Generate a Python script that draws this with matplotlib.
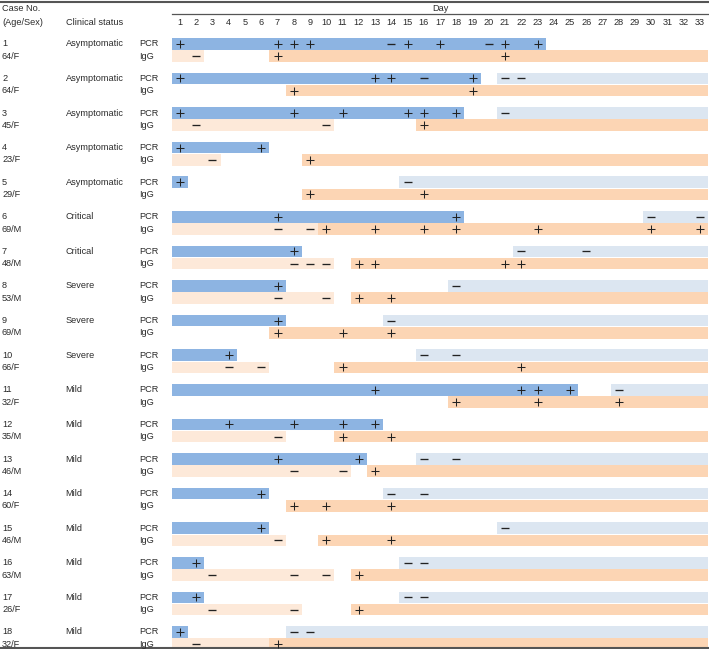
import matplotlib.pyplot as plt
from matplotlib.transforms import blended_transform_factory

plt.rcParams['font.family'] = ['Liberation Sans', 'DejaVu Sans']
plt.rcParams['text.color'] = '#2b2b2b'

case_no = [str(i) for i in range(1, 19)]
age_sex = ['64/F', '64/F', '45/F', '23/F', '29/F', '69/M', '48/M', '53/M', '69/M',
           '66/F', '32/F', '35/M', '46/M', '60/F', '46/M', '63/M', '26/F', '32/F']
status = ['Asymptomatic'] * 5 + ['Critical'] * 2 + ['Severe'] * 3 + ['Mild'] * 8
days = list(range(1, 34))

# PCR positive span always starts on day 1; PCR negative span always runs to day 33
pcr_pos_end = [23, 19, 18, 6, 1, 18, 8, 7, 7, 4, 25, 13, 12, 6, 6, 2, 2, 1]
pcr_neg_start = [None, 21, 21, None, 15, 30, 22, 18, 14, 16, 28, None, 16, 14, 21, 15, 15, 8]
# IgG negative span starts on day 1; IgG positive span runs to day 33
igg_neg_end = [2, None, 10, 3, None, 9, 10, 10, None, 6, None, 7, 11, None, 7, 10, 8, 6]
igg_pos_start = [7, 8, 16, 9, 9, 10, 12, 12, 7, 11, 18, 11, 13, 8, 10, 12, 12, 7]

pcr_plus = [[1, 7, 8, 9, 15, 17, 21, 23], [1, 13, 14, 19], [1, 8, 11, 15, 16, 18], [1, 6],
            [1], [7, 18], [8], [7], [7], [4], [13, 22, 23, 25], [4, 8, 11, 13], [7, 12],
            [6], [6], [2], [2], [1]]
pcr_minus = [[14, 20], [16, 21, 22], [21], [], [15], [30, 33], [22, 26], [18], [14],
             [16, 18], [28], [], [16, 18], [14, 16], [21], [15, 16], [15, 16], [8, 9]]
igg_plus = [[7, 21], [8, 19], [16], [9], [9, 16], [10, 13, 16, 18, 23, 30, 33],
            [12, 13, 21, 22], [12, 14], [7, 11, 14], [11, 22], [18, 23, 28], [11, 14],
            [13], [8, 10, 14], [10, 14], [12], [12], [7]]
igg_minus = [[2], [], [2, 10], [3], [], [7, 9], [8, 9, 10], [7, 10], [], [4, 6], [],
             [7], [8, 11], [], [7], [3, 8, 10], [3, 8], [2]]

# ---- colours ----
pcr_pos_c = '#8DB4E2'
pcr_neg_c = '#DCE6F1'
igg_pos_c = '#FCD5B4'
igg_neg_c = '#FDE9D9'
ink = '#222222'
rule = '#555555'

W, H = 709, 649
fig = plt.figure(figsize=(W / 100, H / 100), dpi=100)
ax = fig.add_axes([0, 0, 1, 1])
ax.axis('off')

# day 1 sits at pixel 180, one day = 16.25 px; case rows every 34.6 px
px_day1, step = 180, 16.25
row0, pitch = 43.8, 34.6
ax.set_xlim(1 - px_day1 / step, 1 + (W - px_day1) / step)
ax.set_ylim((H - row0) / pitch, -row0 / pitch)


def ypx(p):
    return (p - row0) / pitch


tr = blended_transform_factory(fig.transFigure, ax.transData)
fs = 6.6
last = days[-1]
igg_off = 0.353
bh = 0.335

# header
ax.axhline(ypx(1.5), color=rule, lw=1.5)
ax.axhline(ypx(647.5), color=rule, lw=1.5)
ax.plot([0.5, last + 0.6], [ypx(14), ypx(14)], color=rule, lw=0.9, clip_on=False)
ax.text((0.5 + last + 0.5) / 2, ypx(8.5), 'Day', ha='center', va='center', fontsize=fs)
ax.text(2 / W, ypx(8), 'Case No.', transform=tr, ha='left', va='center', fontsize=fs)
ax.text(2 / W, ypx(22), '(Age/Sex)', transform=tr, ha='left', va='center', fontsize=fs)
ax.text(65.5 / W, ypx(22), 'Clinical status', transform=tr, ha='left', va='center', fontsize=fs)
for d in days:
    ax.text(d, ypx(22), str(d), ha='center', va='center', fontsize=fs)

for i in range(len(case_no)):
    yp, yi = i, i + igg_off
    # left columns
    ax.text(2 / W, yp, case_no[i], transform=tr, ha='left', va='center', fontsize=fs)
    ax.text(2 / W, yi, age_sex[i], transform=tr, ha='left', va='center', fontsize=fs)
    ax.text(65.5 / W, yp, status[i], transform=tr, ha='left', va='center', fontsize=fs)
    ax.text(139 / W, yp, 'PCR', transform=tr, ha='left', va='center', fontsize=fs)
    ax.text(139 / W, yi, 'IgG', transform=tr, ha='left', va='center', fontsize=fs)

    # bars
    ax.barh(yp, pcr_pos_end[i], left=0.5, height=bh, color=pcr_pos_c, lw=0)
    if pcr_neg_start[i] is not None:
        s = pcr_neg_start[i]
        ax.barh(yp, last - s + 1, left=s - 0.5, height=bh, color=pcr_neg_c, lw=0)
    if igg_neg_end[i] is not None:
        ax.barh(yi, igg_neg_end[i], left=0.5, height=bh, color=igg_neg_c, lw=0)
    s = igg_pos_start[i]
    ax.barh(yi, last - s + 1, left=s - 0.5, height=bh, color=igg_pos_c, lw=0)

    # result marks
    for xs, y, m, mw in [(pcr_plus[i], yp, '+', 0.75), (pcr_minus[i], yp, '_', 0.95),
                         (igg_plus[i], yi, '+', 0.75), (igg_minus[i], yi, '_', 0.95)]:
        if xs:
            ax.plot(xs, [y] * len(xs), ls='none', marker=m, ms=5.2, mew=mw,
                    color=ink, clip_on=False)

fig.savefig('out.png', dpi=100)
